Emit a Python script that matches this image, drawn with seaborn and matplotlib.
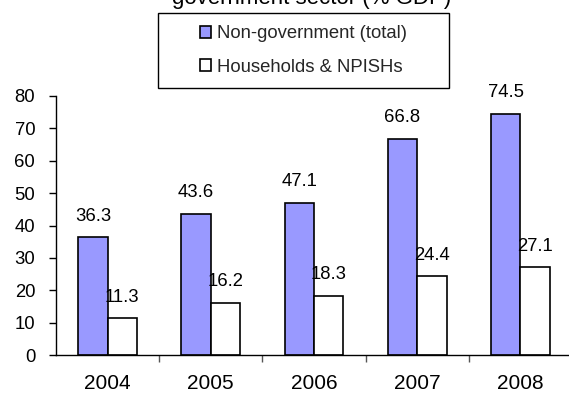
import matplotlib
matplotlib.use("Agg")
import matplotlib.pyplot as plt
from matplotlib.patches import Rectangle
import seaborn as sns
import pandas as pd

years = ["2004", "2005", "2006", "2007", "2008"]
non_government = [36.3, 43.6, 47.1, 66.8, 74.5]
households = [11.3, 16.2, 18.3, 24.4, 27.1]
series_names = ["Non-government (total)", "Households & NPISHs"]
y_ticks = [0, 10, 20, 30, 40, 50, 60, 70, 80]

df = pd.DataFrame({
    "year": years * 2,
    "value": non_government + households,
    "series": [series_names[0]] * len(years) + [series_names[1]] * len(years),
})

sns.set_theme(style="white")
plt.rcParams["font.family"] = ["Liberation Sans", "DejaVu Sans"]

fig = plt.figure(figsize=(5.69, 3.94), dpi=100)
ax = fig.add_axes([56 / 569, 1 - 355 / 394, 516 / 569, (355 - 96) / 394])

palette = {series_names[0]: "#9999FF", series_names[1]: "#FFFFFF"}
sns.barplot(data=df, x="year", y="value", hue="series", palette=palette,
            width=0.57, gap=0, edgecolor="black", linewidth=1.2,
            saturation=1, ax=ax, legend=False)

for cont in ax.containers:
    ax.bar_label(cont, fmt="%.1f", padding=9, fontsize=13.3, color="black")

ax.set_xlim(-0.5, 4.5)
ax.set_ylim(0, 80)
ax.set_yticks(y_ticks)
ax.set_xlabel("")
ax.set_ylabel("")
for s in ["top", "right"]:
    ax.spines[s].set_visible(False)
for s in ["left", "bottom"]:
    ax.spines[s].set_color("black")
    ax.spines[s].set_linewidth(1.0)

ax.tick_params(axis="y", which="major", direction="out", length=5, width=1,
               color="black", pad=10, labelsize=13.3, labelcolor="black", left=True)
ax.tick_params(axis="x", which="major", length=0, pad=14, labelsize=15,
               labelcolor="black")
ax.set_xticks([0.5, 1.5, 2.5, 3.5], minor=True)
ax.tick_params(axis="x", which="minor", direction="out", length=5, width=1,
               color="#555555", bottom=True)

# Title line (upper part lies outside the canvas)
fig.text(312 / 569, 1 - 4 / 394, "government sector (% GDP)", ha="center",
         va="baseline", fontsize=16, color="black")

# Legend with its own frame
handles = [Rectangle((0, 0), 1, 1, facecolor=palette[n], edgecolor="black",
                     linewidth=1.2) for n in series_names]
leg = fig.legend(handles, series_names, loc="center",
                 bbox_to_anchor=((158 + 449) / 2 / 569, 1 - (13 + 88) / 2 / 394),
                 frameon=False, fontsize=13.3, handlelength=0.6, handleheight=0.6,
                 handletextpad=0.3, labelspacing=0.9, borderpad=0,
                 alignment="left")
fig.add_artist(Rectangle((158 / 569, 1 - 88 / 394), (449 - 158) / 569, (88 - 13) / 394,
                         transform=fig.transFigure, facecolor="none",
                         edgecolor="black", linewidth=1.0))

fig.savefig("out.png", dpi=100)
